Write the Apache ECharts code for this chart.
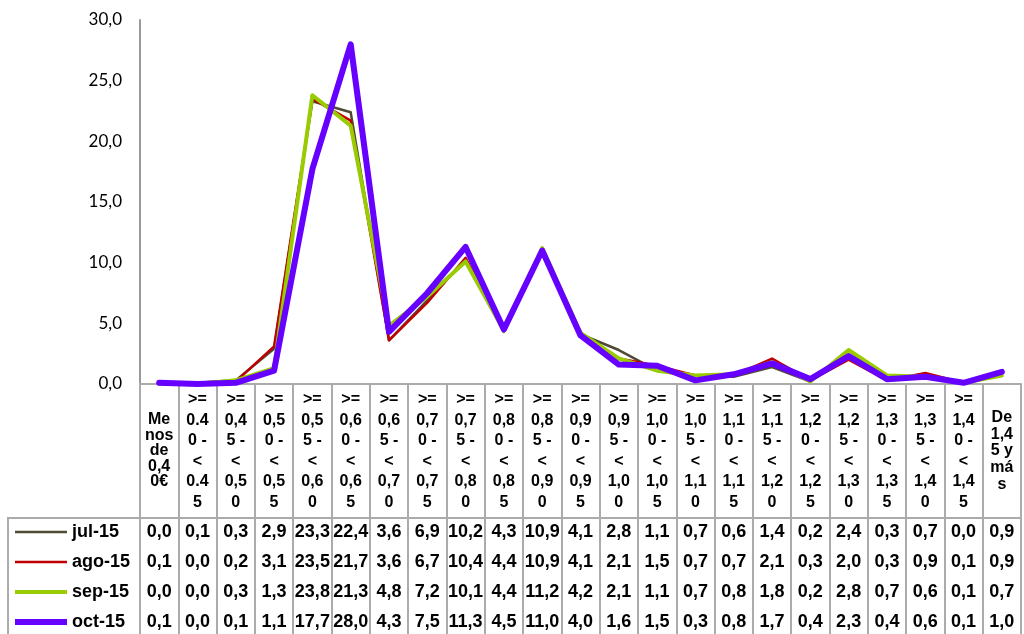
<!DOCTYPE html>
<html>
<head>
<meta charset="utf-8">
<script src="https://cdn.jsdelivr.net/npm/echarts@6/dist/echarts.min.js"></script>
<style>
  html, body { margin: 0; padding: 0; background: #fff; }
  #chart { width: 1024px; height: 634px; }
</style>
</head>
<body>
<div id="chart"></div>
<script>
// Price bands (line breaks follow the narrow table columns)
const categories = [
  'Me\nnos\nde\n0,4\n0€',
  '>=\n0.4\n0 -\n<\n0.4\n5',
  '>=\n0,4\n5 -\n<\n0,5\n0',
  '>=\n0,5\n0 -\n<\n0,5\n5',
  '>=\n0,5\n5 -\n<\n0,6\n0',
  '>=\n0,6\n0 -\n<\n0,6\n5',
  '>=\n0,6\n5 -\n<\n0,7\n0',
  '>=\n0,7\n0 -\n<\n0,7\n5',
  '>=\n0,7\n5 -\n<\n0,8\n0',
  '>=\n0,8\n0 -\n<\n0,8\n5',
  '>=\n0,8\n5 -\n<\n0,9\n0',
  '>=\n0,9\n0 -\n<\n0,9\n5',
  '>=\n0,9\n5 -\n<\n1,0\n0',
  '>=\n1,0\n0 -\n<\n1,0\n5',
  '>=\n1,0\n5 -\n<\n1,1\n0',
  '>=\n1,1\n0 -\n<\n1,1\n5',
  '>=\n1,1\n5 -\n<\n1,2\n0',
  '>=\n1,2\n0 -\n<\n1,2\n5',
  '>=\n1,2\n5 -\n<\n1,3\n0',
  '>=\n1,3\n0 -\n<\n1,3\n5',
  '>=\n1,3\n5 -\n<\n1,4\n0',
  '>=\n1,4\n0 -\n<\n1,4\n5',
  'De\n1,4\n5 y\nmá\ns'
];

const seriesNames = ['jul-15', 'ago-15', 'sep-15', 'oct-15'];

const jul15 = [0.0, 0.1, 0.3, 2.9, 23.3, 22.4, 3.6, 6.9, 10.2, 4.3, 10.9, 4.1, 2.8, 1.1, 0.7, 0.6, 1.4, 0.2, 2.4, 0.3, 0.7, 0.0, 0.9];
const ago15 = [0.1, 0.0, 0.2, 3.1, 23.5, 21.7, 3.6, 6.7, 10.4, 4.4, 10.9, 4.1, 2.1, 1.5, 0.7, 0.7, 2.1, 0.3, 2.0, 0.3, 0.9, 0.1, 0.9];
const sep15 = [0.0, 0.0, 0.3, 1.3, 23.8, 21.3, 4.8, 7.2, 10.1, 4.4, 11.2, 4.2, 2.1, 1.1, 0.7, 0.8, 1.8, 0.2, 2.8, 0.7, 0.6, 0.1, 0.7];
const oct15 = [0.1, 0.0, 0.1, 1.1, 17.7, 28.0, 4.3, 7.5, 11.3, 4.5, 11.0, 4.0, 1.6, 1.5, 0.3, 0.8, 1.7, 0.4, 2.3, 0.4, 0.6, 0.1, 1.0];

const yTicks = { min: 0, max: 30, interval: 5 };

const seriesValues = [jul15, ago15, sep15, oct15];
const colors = ['#4f4a33', '#c00000', '#99cc00', '#6600ff'];
const widths = [2.5, 2.5, 4, 6];

const fmt = v => v.toFixed(1).replace('.', ',');
const gridLine = '#ababab';
const bold = 'Liberation Sans, Arial, sans-serif';

const chart = echarts.init(document.getElementById('chart'), null, { renderer: 'canvas' });

// Category axis labels: five-line labels are set tighter
const categoryData = categories.map((c, i) => {
  const n = c.split('\n').length;
  if (n === 5) {
    const last = i === categories.length - 1;
    return { value: c, textStyle: {
      verticalAlign: 'middle',
      fontFamily: bold, fontWeight: 'bold', fontSize: 16, color: '#000',
      lineHeight: last ? 16.7 : 15.5
    } };
  }
  return c;
});

// One extra axis per data-table row
const rowCenters = [532, 562, 592, 622];
const plotBottom = 384;
const tableAxes = seriesValues.map((vals, r) => ({
  type: 'category',
  gridIndex: 0,
  position: 'bottom',
  data: categories,
  boundaryGap: true,
  offset: r === 0 ? 134 : rowCenters[r] - plotBottom,
  axisLine: { show: r === 0, lineStyle: { color: gridLine, width: 2 } },
  axisTick: { show: false },
  splitLine: { show: false },
  axisLabel: {
    interval: 0,
    margin: r === 0 ? rowCenters[0] - plotBottom - 134 : 0,
    verticalAlign: 'middle',
    color: '#000',
    fontFamily: bold,
    fontWeight: 'bold',
    fontSize: 18,
    formatter: (val, idx) => fmt(vals[idx])
  }
}));

// Legend keys sit in the left column of the data table, one per row
const legends = seriesNames.map((name, i) => ({
  orient: 'horizontal',
  left: 15,
  top: rowCenters[i] - 9,
  height: 20,
  padding: 0,
  itemWidth: 52,
  itemHeight: widths[i],
  itemGap: 0,
  selectedMode: false,
  icon: 'rect',
  data: [name],
  textStyle: { color: '#000', fontFamily: bold, fontWeight: 'bold', fontSize: 18 }
}));

const option = {
  animation: false,
  backgroundColor: '#fff',
  grid: { left: 140, right: 3, top: 20, bottom: 250, containLabel: false },
  legend: legends,
  graphic: [{
    type: 'rect',
    shape: { x: 8, y: 518, width: 132, height: 130 },
    style: { fill: 'none', stroke: gridLine, lineWidth: 2 },
    silent: true
  }],
  xAxis: [{
    type: 'category',
    data: categoryData,
    boundaryGap: true,
    axisLine: { show: true, lineStyle: { color: gridLine, width: 2 } },
    axisTick: { show: true, interval: 0, length: 250, alignWithLabel: false,
      lineStyle: { color: gridLine, width: 2 } },
    splitLine: { show: false },
    axisLabel: {
      interval: 0,
      margin: 67,
      verticalAlign: 'middle',
      color: '#000',
      fontFamily: bold,
      fontWeight: 'bold',
      fontSize: 16,
      lineHeight: 20.6
    }
  }].concat(tableAxes),
  yAxis: {
    type: 'value',
    min: yTicks.min,
    max: yTicks.max,
    interval: yTicks.interval,
    axisLine: { show: true, lineStyle: { color: '#9a9a9a', width: 2 } },
    axisTick: { show: false },
    splitLine: { show: false },
    axisLabel: {
      margin: 18,
      color: '#000',
      fontFamily: 'Lato, Carlito, sans-serif',
      fontSize: 17,
      formatter: v => fmt(v)
    }
  },
  series: seriesNames.map((name, i) => ({
    name,
    type: 'line',
    xAxisIndex: 0,
    data: seriesValues[i],
    symbol: 'none',
    smooth: false,
    color: colors[i],
    lineStyle: { color: colors[i], width: widths[i], cap: 'round', join: 'round' },
    z: 2 + i
  }))
};

chart.setOption(option);
</script>
</body>
</html>
